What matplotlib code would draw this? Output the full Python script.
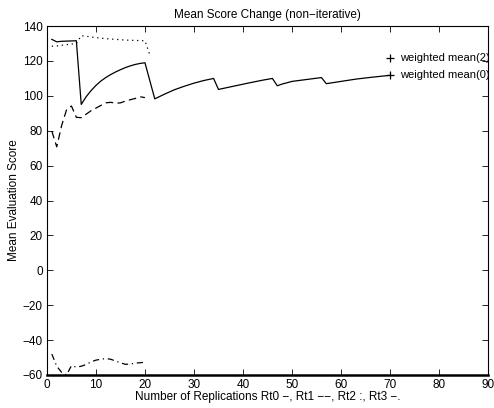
import matplotlib
matplotlib.use("Agg")
import matplotlib.pyplot as plt

plt.rcParams['font.family'] = ['Liberation Sans', 'DejaVu Sans']

# Rt0 (solid)
x0 = [1, 2, 3, 4, 5, 6, 7, 8, 9, 10, 11, 12, 13, 14, 15, 16, 17, 18, 19, 20,
      22, 24, 26, 28, 30, 32, 34, 35, 38, 41, 44, 46, 47, 48, 50, 53, 56, 57, 60, 63, 66, 70]
y0 = [132.4, 131.0, 131.3, 131.4, 131.5, 131.6, 95.1, 99.5, 103.0, 106.0, 108.5, 110.5, 112.2, 113.7,
      115.0, 116.2, 117.2, 118.0, 118.6, 119.0,
      98.3, 101.0, 103.5, 105.5, 107.3, 108.8, 110.0, 103.7, 105.5, 107.3, 109.0, 110.0, 105.8, 106.8,
      108.3, 109.4, 110.5, 107.0, 108.3, 109.6, 110.6, 111.8]

# Rt1 (dashed)
x1 = list(range(1, 21))
y1 = [79.8, 70.8, 83.0, 92.0, 94.2, 87.7, 87.5, 89.5, 91.5, 93.0, 94.5, 96.0, 96.3, 95.8,
      96.0, 97.0, 97.8, 98.5, 99.5, 99.0]

# Rt2 (dotted)
x2 = list(range(1, 22))
y2 = [128.5, 128.6, 129.0, 129.4, 129.7, 130.0, 134.5, 134.2, 133.8, 133.4, 133.1, 132.8,
      132.6, 132.4, 132.2, 132.0, 131.9, 131.8, 131.7, 131.6, 123.4]

# Rt3 (dash-dot)
x3 = list(range(1, 21))
y3 = [-48.0, -55.0, -58.5, -60.0, -54.7, -55.5, -55.0, -54.0, -52.5, -51.5, -51.0, -50.6,
      -51.0, -52.0, -53.0, -53.9, -53.8, -53.2, -53.0, -52.7]

marker_x = [70, 70]
marker_y = [121.7, 112.0]
marker_labels = ['weighted mean(2)', 'weighted mean(0)']

FS = 8.5

fig = plt.figure(figsize=(4.94, 4.08), dpi=100)
ax = fig.add_axes([0.095, 0.081, 0.893, 0.855])

ax.plot(x0, y0, color='black', linestyle='-', linewidth=0.9)
ax.plot(x1, y1, color='black', linestyle=(0, (6, 3.5)), linewidth=0.9)
ax.plot(x2, y2, color='black', linestyle=(0, (1, 3)), linewidth=0.9)
ax.plot(x3, y3, color='black', linestyle=(0, (5, 3, 1, 3)), linewidth=0.9)

ax.plot(marker_x, marker_y, linestyle='none', marker='+', color='black', markersize=6,
        markeredgewidth=0.9, clip_on=False)
for mx, my, lab in zip(marker_x, marker_y, marker_labels):
    ax.text(mx + 2.0, my, lab, fontsize=8, va='center', ha='left', clip_on=False)

ax.set_xlim(0, 90)
ax.set_ylim(-60, 140)
ax.set_xticks(range(0, 91, 10))
ax.set_yticks(range(-60, 141, 20))

ax.tick_params(direction='in', top=True, right=True, length=4, width=0.6, labelsize=FS, pad=3)
for s in ['top', 'right', 'left']:
    ax.spines[s].set_linewidth(0.8)
ax.spines['bottom'].set_linewidth(1.8)

ax.set_title('Mean Score Change (non\u2212iterative)', fontsize=FS, pad=6)
ax.set_xlabel('Number of Replications Rt0 \u2212, Rt1 \u2212\u2212, Rt2 :, Rt3 \u2212.', fontsize=FS, labelpad=0)
ax.set_ylabel('Mean Evaluation Score', fontsize=FS, labelpad=2)

fig.savefig('out.png', dpi=100)
